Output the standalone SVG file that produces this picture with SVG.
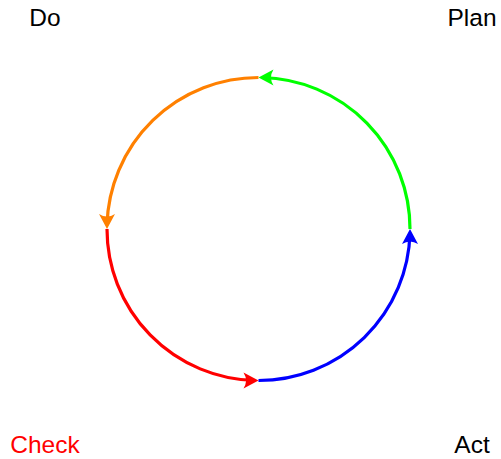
<svg xmlns="http://www.w3.org/2000/svg" width="501" height="459" viewBox="0 0 501 459">
<style>
.arc{fill:none;stroke-width:3.2}
.lbl{font-family:"Liberation Sans","DejaVu Sans",sans-serif;font-size:24.5px;text-anchor:middle}
</style>
<defs>
<path id="ah" d="M0,0 L-15,-8 Q-10,0 -15,8 Z"/>
</defs>
<rect width="501" height="459" fill="#fff"/>
<g id="connectors">
<path class="arc" stroke="#00ff00" d="M410,229 A151.5,151.5 0 0 0 262,77.5"/>
<use href="#ah" fill="#00ff00" transform="translate(258.5,77.5) rotate(180)"/>
<path class="arc" stroke="#ff8000" d="M258.5,77.5 A151.5,151.5 0 0 0 107,225"/>
<use href="#ah" fill="#ff8000" transform="translate(107,229) rotate(90)"/>
<path class="arc" stroke="#ff0000" d="M107,229 A151.5,151.5 0 0 0 255,380.5"/>
<use href="#ah" fill="#ff0000" transform="translate(258.5,380.5)"/>
<path class="arc" stroke="#0000ff" d="M258.5,380.5 A151.5,151.5 0 0 0 410,233"/>
<use href="#ah" fill="#0000ff" transform="translate(410,229) rotate(-90)"/>
</g>
<g id="do"><text class="lbl" x="45" y="26" fill="#000">Do</text></g>
<g id="plan"><text class="lbl" x="472" y="26" fill="#000">Plan</text></g>
<g id="check"><text class="lbl" x="45" y="453" fill="#ff0000">Check</text></g>
<g id="act"><text class="lbl" x="472" y="453" fill="#000">Act</text></g>
</svg>
